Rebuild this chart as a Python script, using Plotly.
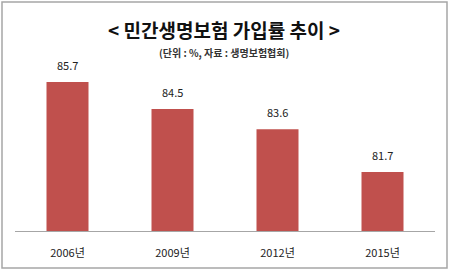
import plotly.graph_objects as go

categories = ["2006년", "2009년", "2012년", "2015년"]
values = [85.7, 84.5, 83.6, 81.7]
labels = ["85.7", "84.5", "83.6", "81.7"]

title_text = "<민간생명보험 가입률 추이>"
subtitle_text = "(단위 : %, 자료 : 생명보험협회)"

FONT = "Noto Sans CJK KR"
BAR = "#C0504D"

fig = go.Figure()
fig.add_trace(go.Bar(
    x=categories, y=values, width=0.4,
    marker=dict(color=BAR, line=dict(width=0)),
    hoverinfo="skip",
))

annotations = []
for c, v, t in zip(categories, values, labels):
    annotations.append(dict(x=c, y=v, text=t, showarrow=False, yanchor="bottom",
                            yshift=7, font=dict(family=FONT, size=11, color="#222222")))

W, H = 450, 271
ml, mr, mt, mb = 15, 15, 70, 40
pw, ph = W - ml - mr, H - mt - mb

def px_to_paper_x(px):
    return (px - ml) / pw

def px_to_paper_y(py):
    return (H - mb - py) / ph

annotations.append(dict(x=px_to_paper_x(224), y=px_to_paper_y(30), xref="paper", yref="paper",
                        text="<b>" + title_text.replace("<", "&lt;").replace(">", "&gt;").replace("&lt;", "&lt; ", 1).replace("&gt;", " &gt;") + "</b>",
                        showarrow=False, xanchor="center", yanchor="middle",
                        font=dict(family=FONT, size=19, color="#111111")))
annotations.append(dict(x=px_to_paper_x(224), y=px_to_paper_y(52), xref="paper", yref="paper",
                        text="<b>" + subtitle_text + "</b>", showarrow=False,
                        xanchor="center", yanchor="middle",
                        font=dict(family=FONT, size=10, color="#333333")))

shapes = [dict(type="rect", xref="paper", yref="paper",
               x0=px_to_paper_x(2), x1=px_to_paper_x(447),
               y0=px_to_paper_y(268), y1=px_to_paper_y(2),
               line=dict(color="#A6A6A6", width=1.5), fillcolor="rgba(0,0,0,0)", layer="below")]

fig.update_layout(
    width=W, height=H,
    margin=dict(l=ml, r=mr, t=mt, b=mb, pad=0),
    paper_bgcolor="white", plot_bgcolor="white",
    showlegend=False,
    bargap=0.6,
    annotations=annotations,
    shapes=shapes,
    xaxis=dict(showline=True, linecolor="#A6A6A6", linewidth=1, ticks="",
               showgrid=False, zeroline=False, ticklabelstandoff=12,
               tickfont=dict(family=FONT, size=11, color="#222222")),
    yaxis=dict(visible=False, range=[79.08, 79.08 + ph / 22.5], showgrid=False),
)

fig.write_html("out.html", config={"displayModeBar": False})
